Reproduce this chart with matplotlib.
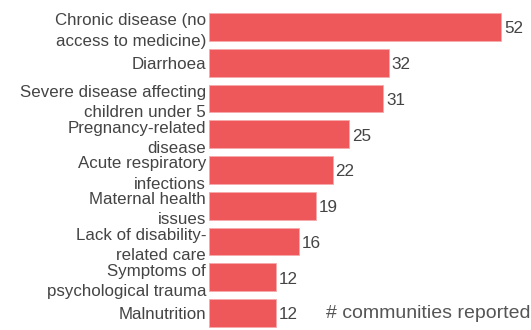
import matplotlib.pyplot as plt

plt.rcParams['font.family'] = ['Liberation Sans', 'DejaVu Sans']

labels = ['Chronic disease (no\naccess to medicine)', 'Diarrhoea',
          'Severe disease affecting\nchildren under 5', 'Pregnancy-related\ndisease',
          'Acute respiratory\ninfections', 'Maternal health\nissues',
          'Lack of disability-\nrelated care', 'Symptoms of\npsychological trauma',
          'Malnutrition']
counts = [52, 32, 31, 25, 22, 19, 16, 12, 12]

fig = plt.figure(figsize=(5.31, 3.30), dpi=100)
ax = fig.add_axes([209 / 531, 0, 1 - 209 / 531, 1])

y = list(range(len(counts)))
bars = ax.barh(y, counts, height=0.78, color='#ee585b', edgecolor='#f7a9aa', linewidth=0.6)

for yi, v in zip(y, counts):
    ax.text(v + 0.5, yi + 0.05, str(v), va='center', ha='left', fontsize=12.3, color='#444444')

ax.set_yticks(y)
ax.set_yticklabels(labels, fontsize=12.2, color='#444444', linespacing=1.42)
ax.tick_params(axis='y', length=0, pad=2)
ax.set_xticks([])
ax.set_xlim(0, 57.3)
ax.set_ylim(8.476, -0.755)
for s in ax.spines.values():
    s.set_visible(False)

ax.text(1.0, 0.05, '# communities reported', transform=ax.transAxes,
        ha='right', va='center', fontsize=14, color='#555555')

fig.savefig('out.png', dpi=100)
